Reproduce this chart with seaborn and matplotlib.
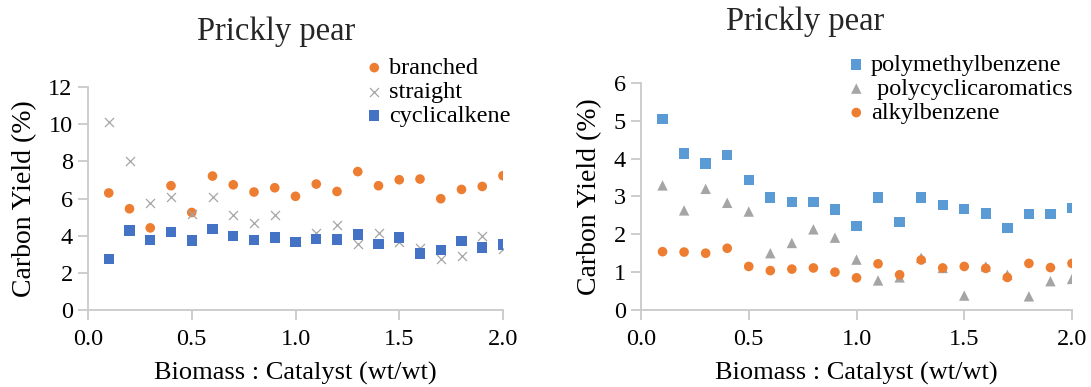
import pandas as pd
import matplotlib
matplotlib.use('Agg')
import matplotlib.pyplot as plt
import seaborn as sns

# Datos
ratio = [0.1, 0.2, 0.3, 0.4, 0.5, 0.6, 0.7, 0.8, 0.9, 1.0,
         1.1, 1.2, 1.3, 1.4, 1.5, 1.6, 1.7, 1.8, 1.9, 2.0]

branched = [6.3, 5.45, 4.42, 6.69, 5.25, 7.21, 6.74, 6.35, 6.58, 6.12,
            6.78, 6.38, 7.45, 6.69, 7.01, 7.05, 5.99, 6.49, 6.65, 7.23]
straight = [10.1, 8.0, 5.77, 6.06, 5.18, 6.06, 5.09, 4.69, 5.1, 3.7,
            4.12, 4.6, 3.56, 4.15, 3.67, 3.35, 2.72, 2.9, 3.99, 3.31]
cyclicalkene = [2.73, 4.28, 3.78, 4.21, 3.74, 4.35, 3.99, 3.76, 3.9, 3.67,
                3.81, 3.79, 4.06, 3.56, 3.9, 3.04, 3.24, 3.7, 3.36, 3.53]

polymethylbenzene = [5.05, 4.13, 3.87, 4.1, 3.44, 2.97, 2.86, 2.85, 2.65, 2.22,
                     2.97, 2.32, 2.97, 2.78, 2.67, 2.55, 2.16, 2.54, 2.54, 2.69]
polycyclicaromatics = [3.29, 2.63, 3.2, 2.83, 2.6, 1.5, 1.77, 2.13, 1.91, 1.33,
                       0.78, 0.86, 1.38, 1.11, 0.38, 1.15, 0.93, 0.36, 0.76, 0.82]
alkylbenzene = [1.54, 1.53, 1.5, 1.63, 1.15, 1.04, 1.08, 1.11, 1.0, 0.85,
                1.22, 0.93, 1.32, 1.11, 1.15, 1.1, 0.86, 1.23, 1.12, 1.23]

orange = '#ED7D31'
gray = '#A5A5A5'
blue = '#4472C4'
lightblue = '#5B9BD5'
spine = '#C9C9C9'

sns.set_theme(style='white')
plt.rcParams['font.family'] = ['Liberation Serif', 'DejaVu Serif']

fig = plt.figure(figsize=(10.91, 3.87), dpi=100)
ax1 = fig.add_axes([88/1091, 0.199, 415/1091, 0.576])
ax2 = fig.add_axes([641/1091, 0.199, 431/1091, 0.587])

# Panel izquierdo
sns.scatterplot(x=ratio, y=branched, ax=ax1, color=orange, marker='o', s=48,
                edgecolor='none', label='branched')
sns.scatterplot(x=ratio, y=straight, ax=ax1, color=gray, marker='x', s=42,
                linewidth=0.9, label='straight')
sns.scatterplot(x=ratio, y=cyclicalkene, ax=ax1, color=blue, marker='s', s=56,
                edgecolor='none', label='cyclicalkene')
ax1.set_ylim(0, 12)
ax1.set_yticks(range(0, 13, 2))

# Panel derecho
sns.scatterplot(x=ratio, y=polymethylbenzene, ax=ax2, color=lightblue, marker='s', s=56,
                edgecolor='none', label='polymethylbenzene')
sns.scatterplot(x=ratio, y=polycyclicaromatics, ax=ax2, color=gray, marker='^', s=56,
                edgecolor='none', label=' polycyclicaromatics')
sns.scatterplot(x=ratio, y=alkylbenzene, ax=ax2, color=orange, marker='o', s=48,
                edgecolor='none', label='alkylbenzene')
ax2.set_ylim(0, 6)
ax2.set_yticks(range(0, 7))

for ax in (ax1, ax2):
    ax.set_xlim(0, 2.0)
    ax.set_xticks([0.0, 0.5, 1.0, 1.5, 2.0])
    ax.set_xticklabels(['0.0', '0.5', '1.0', '1.5', '2.0'])
    for side in ('top', 'right'):
        ax.spines[side].set_visible(False)
    for side in ('left', 'bottom'):
        ax.spines[side].set_color(spine)
        ax.spines[side].set_linewidth(1.3)
    ax.tick_params(axis='both', which='major', direction='out', length=7, width=1.3,
                   color=spine, labelsize=17.5, labelcolor='black', pad=4,
                   left=True, bottom=True)
    ax.tick_params(axis='x', pad=7)
    ax.set_xlabel('Biomass : Catalyst (wt/wt)', fontsize=19, color='black', labelpad=8)
    ax.set_ylabel('Carbon Yield (%)', fontsize=20, color='black', labelpad=8)
    ax.grid(False)

leg1 = ax1.legend(loc='upper left', bbox_to_anchor=(367/1091, 1 - 57/387),
                  bbox_transform=fig.transFigure, frameon=False, fontsize=17.5,
                  handlelength=0.6, handletextpad=0.3, labelspacing=0.08,
                  borderpad=0, borderaxespad=0)
leg2 = ax2.legend(loc='upper left', bbox_to_anchor=(849/1091, 1 - 54/387),
                  bbox_transform=fig.transFigure, frameon=False, fontsize=17.5,
                  handlelength=0.6, handletextpad=0.3, labelspacing=0.08,
                  borderpad=0, borderaxespad=0)
for leg in (leg1, leg2):
    for t in leg.get_texts():
        t.set_color('black')

fig.text(276/1091, 1 - 32/387, 'Prickly pear', ha='center', va='center', fontsize=23.5)
fig.text(805/1091, 1 - 22/387, 'Prickly pear', ha='center', va='center', fontsize=23.5)

plt.savefig('out.png', dpi=100)
